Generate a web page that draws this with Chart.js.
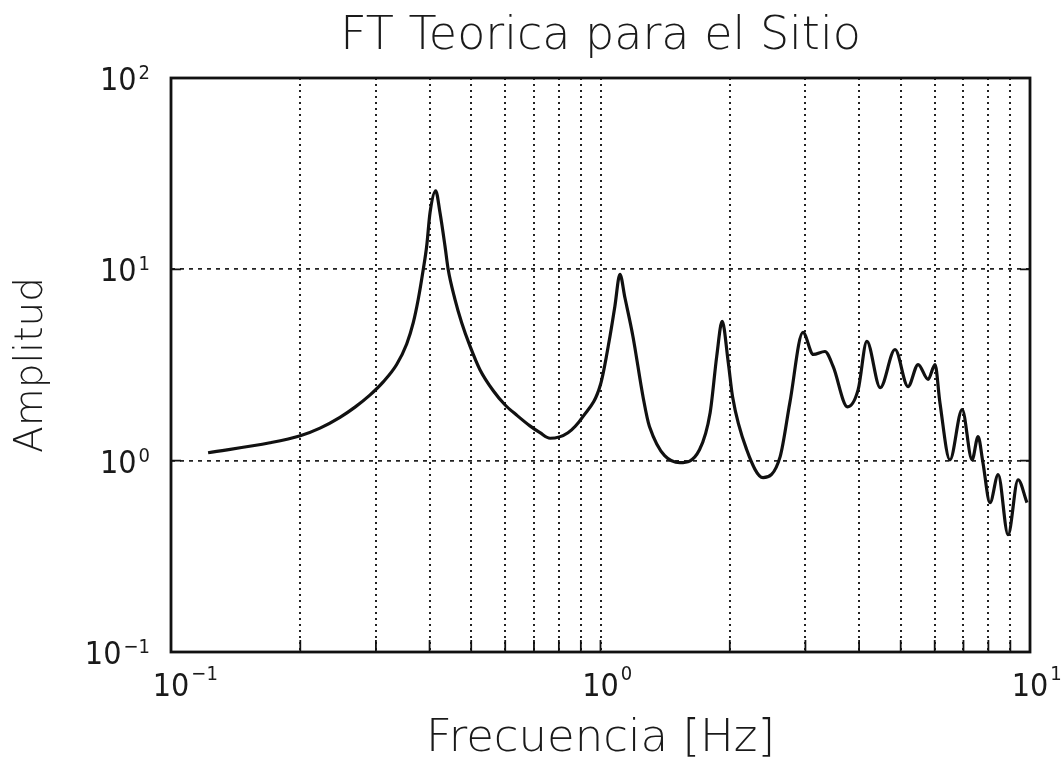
<!DOCTYPE html>
<html>
<head>
<meta charset="utf-8">
<title>FT Teorica para el Sitio</title>
<script src="https://cdn.jsdelivr.net/npm/chart.js@4.4.1/dist/chart.umd.min.js"></script>
<style>
  body { margin: 0; background: #fff; }
  canvas { display: block; }
</style>
</head>
<body>
<canvas id="myChart" width="1064" height="762"></canvas>
<script>
// transfer function, frequency in Hz vs amplitude
const freq = [
  0.122, 0.170, 0.200, 0.2223, 0.2474, 0.2682, 0.2904, 0.312, 0.3353, 0.3538, 0.3665, 0.3764, 0.3867,
  0.3938, 0.401, 0.4133, 0.4229, 0.4345, 0.4419, 0.4583, 0.4751, 0.4968, 0.524, 0.5628, 0.599,
  0.640, 0.685, 0.723, 0.763, 0.84, 0.91, 1.0, 1.052, 1.08, 1.11, 1.14, 1.19,
  1.256, 1.30, 1.53, 1.70, 1.80, 1.865, 1.92, 1.984, 2.03, 2.19, 2.39, 2.62,
  2.76, 2.96, 3.13, 3.33, 3.48, 3.76, 3.98, 4.17, 4.48, 4.85, 5.20, 5.49,
  5.79, 6.01, 6.17, 6.51, 6.95, 7.33, 7.57, 7.77, 8.07, 8.43, 8.89, 9.38,
  9.84
];
const amp = [
  1.10, 1.24, 1.35, 1.48, 1.685, 1.905, 2.20, 2.58, 3.18, 4.07, 5.26, 6.97, 10.0,
  13.2, 19.8, 25.7, 19.8, 13.2, 10.0, 6.97, 5.26, 3.97, 2.99, 2.32, 1.96,
  1.72, 1.52, 1.40, 1.31, 1.40, 1.70, 2.50, 4.46, 6.4, 9.4, 7.1, 4.46,
  2.16, 1.51, 0.976, 1.14, 1.78, 3.52, 5.34, 3.25, 2.16, 1.14, 0.815, 1.05,
  2.01, 4.68, 3.59, 3.72, 3.11, 1.91, 2.35, 4.20, 2.41, 3.81, 2.44, 3.18,
  2.66, 3.18, 2.01, 1.01, 1.85, 1.01, 1.335, 0.976, 0.603, 0.845, 0.41, 0.795,
  0.603
];

// grid positions and the decade labels (10 to the power shown)
const xTickValues = [0.1, 0.2, 0.3, 0.4, 0.5, 0.6, 0.7, 0.8, 0.9, 1, 2, 3, 4, 5, 6, 7, 8, 9, 10];
const yTickValues = [0.1, 1, 10, 100];
const xLabelValues = [0.1, 1, 10];
const xLabelExps = ['−1', '0', '1'];
const yLabelValues = [0.1, 1, 10, 100];
const yLabelExps = ['−1', '0', '1', '2'];

const textColor = '#1a1a1a';
const bigFont = "'DejaVu Sans', 'Liberation Sans', sans-serif";
const tickFont = "'Liberation Sans Narrow', 'DejaVu Sans Condensed', 'Liberation Sans', sans-serif";

// box around the plot plus short inward ticks
const framePlugin = {
  id: 'frame',
  afterDraw(chart) {
    const { ctx, chartArea: a, scales: { x, y } } = chart;
    ctx.save();
    ctx.strokeStyle = '#111';
    ctx.lineWidth = 1.8;
    ctx.beginPath();
    x.ticks.forEach(t => {
      const px = x.getPixelForValue(t.value);
      ctx.moveTo(px, a.bottom);
      ctx.lineTo(px, a.bottom - 12);
    });
    y.ticks.forEach(t => {
      const py = y.getPixelForValue(t.value);
      ctx.moveTo(a.left, py);
      ctx.lineTo(a.left + 10, py);
      ctx.moveTo(a.right, py);
      ctx.lineTo(a.right - 10, py);
    });
    ctx.stroke();
    ctx.lineWidth = 2.8;
    ctx.strokeRect(a.left, a.top, a.right - a.left, a.bottom - a.top);
    ctx.restore();
  }
};

// "10" with a raised exponent at each decade
const powerLabels = {
  id: 'powerLabels',
  afterDraw(chart) {
    const { ctx, chartArea: a, scales: { x, y } } = chart;
    const base = '32px ' + tickFont;
    const sup = '20px ' + tickFont;
    ctx.save();
    ctx.fillStyle = textColor;
    ctx.textBaseline = 'alphabetic';
    xLabelValues.forEach((v, i) => {
      const px = x.getPixelForValue(v);
      ctx.font = base;
      ctx.textAlign = 'center';
      ctx.fillText('10', px, a.bottom + 44);
      const w = ctx.measureText('10').width;
      ctx.font = sup;
      ctx.textAlign = 'left';
      ctx.fillText(xLabelExps[i], px + w / 2 + 2, a.bottom + 28);
    });
    yLabelValues.forEach((v, i) => {
      const py = y.getPixelForValue(v);
      const right = a.left - 21;
      ctx.font = sup;
      ctx.textAlign = 'right';
      const ew = ctx.measureText(yLabelExps[i]).width;
      ctx.fillText(yLabelExps[i], right, py + 1);
      ctx.font = base;
      ctx.fillText('10', right - ew - 2, py + 12);
    });
    ctx.restore();
  }
};

const ctx = document.getElementById('myChart').getContext('2d');
new Chart(ctx, {
  type: 'line',
  data: {
    datasets: [{
      data: freq.map((f, i) => ({ x: f, y: amp[i] })),
      borderColor: '#111',
      borderWidth: 3.2,
      pointRadius: 0,
      fill: false,
      cubicInterpolationMode: 'monotone'
    }]
  },
  options: {
    responsive: false,
    animation: false,
    devicePixelRatio: 1,
    layout: { padding: { left: 0, right: 34, top: 0, bottom: 0 } },
    plugins: {
      legend: { display: false },
      tooltip: { enabled: false },
      title: {
        display: true,
        text: 'FT Teorica para el Sitio',
        fullSize: false,
        color: textColor,
        font: { family: bigFont, size: 46, weight: '200', lineHeight: 1.2 },
        padding: { top: 9, bottom: 13.8 }
      }
    },
    scales: {
      x: {
        type: 'logarithmic',
        min: 0.1,
        max: 10,
        afterBuildTicks: scale => { scale.ticks = xTickValues.map(v => ({ value: v })); },
        afterFit: scale => { scale.height = 110; },
        ticks: { display: false, autoSkip: false },
        grid: { color: '#222', lineWidth: 2, drawTicks: false },
        border: { display: false, dash: [2, 4] },
        title: {
          display: true,
          text: 'Frecuencia [Hz]',
          color: textColor,
          font: { family: bigFont, size: 45, weight: '200', lineHeight: 1 },
          padding: { top: 0, bottom: 0 }
        }
      },
      y: {
        type: 'logarithmic',
        min: 0.1,
        max: 100,
        afterBuildTicks: scale => { scale.ticks = yTickValues.map(v => ({ value: v })); },
        afterFit: scale => { scale.width = 171; },
        ticks: { display: false, autoSkip: false },
        grid: { color: '#222', lineWidth: 1.8, drawTicks: false },
        border: { display: false, dash: [4, 5] },
        title: {
          display: true,
          text: 'Amplitud',
          color: textColor,
          font: { family: bigFont, size: 39, weight: '200', lineHeight: 1.2 },
          padding: { top: 8, bottom: 0 }
        }
      }
    }
  },
  plugins: [framePlugin, powerLabels]
});
</script>
</body>
</html>
